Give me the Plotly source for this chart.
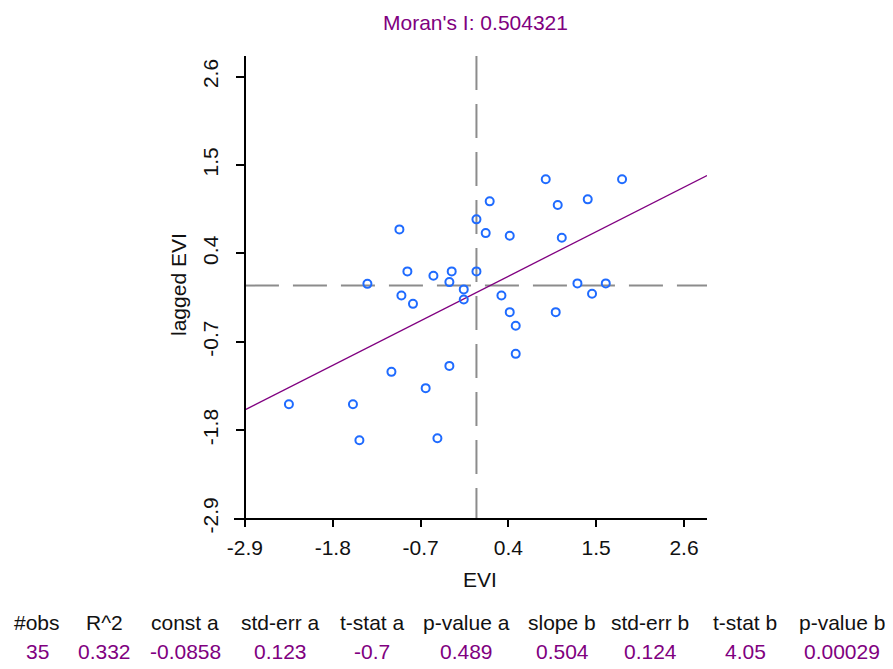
import plotly.graph_objects as go

# ---- data ----
evi = [-0.965, 0.000, -0.865, -0.539, -0.310, 0.000, -1.366, -0.339, -0.159, -0.159,
       -0.940, -0.795, -1.065, -0.339, -0.636, -2.349, -1.547, -1.466, -0.489,
       0.868, 1.824, 0.166, 1.394, 1.018, 0.116, 0.417, 1.069,
       1.265, 1.620, 1.448, 0.313, 0.417, 0.993, 0.492, 0.492]
lagged_evi = [0.699, 0.824, 0.176, 0.121, 0.176, 0.176, 0.021, 0.043, -0.048, -0.173,
              -0.123, -0.228, -1.074, -1.000, -1.277, -1.477, -1.477, -1.925, -1.900,
              1.322, 1.322, 1.048, 1.073, 1.002, 0.653, 0.619, 0.594,
              0.027, 0.027, -0.103, -0.123, -0.331, -0.331, -0.501, -0.850]
tick_vals = [-2.9, -1.8, -0.7, 0.4, 1.5, 2.6]
tick_text = ["-2.9", "-1.8", "-0.7", "0.4", "1.5", "2.6"]
morans_i = "0.504321"
const_a = -0.0858
slope_b = 0.504
table_headers = ["#obs", "R^2", "const a", "std-err a", "t-stat a", "p-value a",
                 "slope b", "std-err b", "t-stat b", "p-value b"]
table_values = ["35", "0.332", "-0.0858", "0.123", "-0.7", "0.489",
                "0.504", "0.124", "4.05", "0.00029"]
table_x_px = [37, 104, 185, 280, 372, 466, 562, 650, 745, 842]

# ---- layout geometry (page has an 8px body margin) ----
OFF = 8
W, H = 893, 669
ML, MR, MT, MB = 234 - OFF, 186 + OFF, 56 - OFF, 142 + OFF
PW, PH = W - ML - MR, H - MT - MB
XR = [-3.037, 2.888]
YR = [-3.005, 2.857]
FONT = "Liberation Sans, Arial, sans-serif"
FS = 21
PURPLE = "#800080"
GRAY = "#8c8c8c"
TXT = "#111111"


def px_x(px):
    return (px - OFF - ML) / PW


def px_y(py):
    return (H - MB - (py - OFF)) / PH


fig = go.Figure()

# dashed mean lines
fig.add_trace(go.Scatter(x=[tick_vals[0], XR[1]], y=[0, 0], mode="lines",
                         line=dict(color=GRAY, width=2, dash="34px,14px"),
                         hoverinfo="skip", showlegend=False))
fig.add_trace(go.Scatter(x=[0, 0], y=[YR[1], tick_vals[0]], mode="lines",
                         line=dict(color=GRAY, width=2, dash="34px,14px"),
                         hoverinfo="skip", showlegend=False))

# regression line
x_line = [tick_vals[0], XR[1]]
y_line = [const_a + slope_b * v for v in x_line]
fig.add_trace(go.Scatter(x=x_line, y=y_line, mode="lines",
                         line=dict(color=PURPLE, width=1.3),
                         hoverinfo="skip", showlegend=False))

# points
fig.add_trace(go.Scatter(x=evi, y=lagged_evi, mode="markers",
                         marker=dict(symbol="circle-open", size=8, color="#1f6bff",
                                     line=dict(width=2, color="#1f6bff")),
                         showlegend=False))

axis_common = dict(showgrid=False, zeroline=False, showline=True, linecolor="black",
                   linewidth=1.5, ticks="outside", ticklen=8, tickwidth=1.5,
                   tickcolor="black", tickvals=tick_vals, ticktext=tick_text,
                   tickfont=dict(family=FONT, size=FS, color=TXT),
                   anchor="free")

fig.update_layout(
    width=W, height=H,
    margin=dict(l=ML, r=MR, t=MT, b=MB, autoexpand=False),
    paper_bgcolor="white", plot_bgcolor="white",
    xaxis=dict(range=XR, position=(tick_vals[0] - YR[0]) / (YR[1] - YR[0]),
               ticklabelstandoff=2, **axis_common),
    yaxis=dict(range=YR, position=(tick_vals[0] - XR[0]) / (XR[1] - XR[0]),
               tickangle=-90, ticklabelstandoff=10, **axis_common),
    font=dict(family=FONT, size=FS, color=TXT),
)


def ann(text, x, y, color=TXT, angle=0):
    return dict(text=text, x=px_x(x), y=px_y(y), xref="paper", yref="paper",
                xanchor="center", yanchor="middle", textangle=angle,
                showarrow=False, font=dict(family=FONT, size=FS, color=color))


annotations = [
    ann("Moran's I: " + morans_i, 475, 22, PURPLE),
    ann("EVI", 480, 579),
    ann("lagged EVI", 178, 285, angle=-90),
]
for hx, ht, vt in zip(table_x_px, table_headers, table_values):
    annotations.append(ann(ht, hx, 622))
    annotations.append(ann(vt, hx, 651, PURPLE))
fig.update_layout(annotations=annotations)

fig.write_html("out.html")
